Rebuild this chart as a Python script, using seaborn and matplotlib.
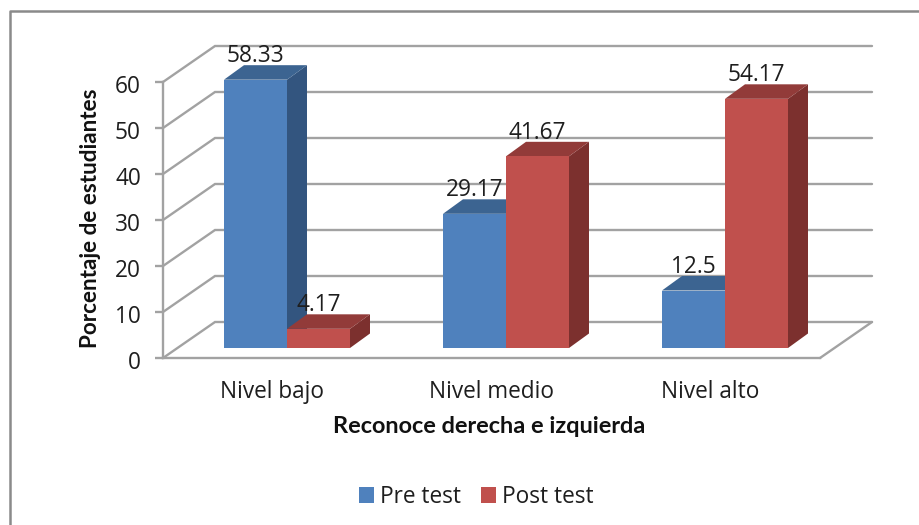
import matplotlib
matplotlib.use("Agg")
import matplotlib.pyplot as plt
import matplotlib.transforms as mtransforms
import pandas as pd
import seaborn as sns
from matplotlib.lines import Line2D
from matplotlib.patches import Polygon

# Survey results: share of students per level, before and after the programme
levels = ["Nivel bajo", "Nivel medio", "Nivel alto"]
pre_test = [58.33, 29.17, 12.5]
post_test = [4.17, 41.67, 54.17]
series_names = ["Pre test", "Post test"]
y_ticks = [0, 10, 20, 30, 40, 50, 60]

FACE = ["#4F81BD", "#C0504D"]
TOP = ["#3C6491", "#923B39"]
SIDE = ["#33557F", "#7C302E"]
GRID = "#A2A2A2"
INK = "#1E1E1E"
FONT = "Open Sans"
BOLD_FONT = "Lato"
TEXT_SIZE = 16.3

W, H = 920, 525
FLOOR_L, FLOOR_R, FLOOR_Y, TOP_Y = 163, 820, 358, 82
WALL_DX, WALL_DY = 52, 36       # depth of the box, pixels
FRONT_DX, FRONT_DY = 14.5, 10   # bars stand this far back from the front edge
BAR_DX, BAR_DY = 20, 14.5       # depth of one bar

sns.set_theme(style="white")
plt.rcParams["font.family"] = [FONT, "DejaVu Sans"]

fig = plt.figure(figsize=(W / 100, H / 100), dpi=100)


def place(dx=0, dy=0):
    return [(FLOOR_L + dx) / W, (H - FLOOR_Y + dy) / H,
            (FLOOR_R - FLOOR_L) / W, (FLOOR_Y - TOP_Y) / H]


# Outer chart frame, open towards the bottom and right edges of the figure
fig.add_artist(Line2D([10 / W, 10 / W, 1.0], [0.0, 1 - 11 / H, 1 - 11 / H],
                      color="#8A8A8A", lw=1.8, transform=fig.transFigure))

# Box axes: value axis, floor and walls
box = fig.add_axes(place())
box.set_xlim(-0.5, 2.5)
box.set_ylim(0, 60)
box.patch.set_alpha(0)
per_cat = (FLOOR_R - FLOOR_L) / 3
per_unit = (FLOOR_Y - TOP_Y) / 60
wall_dx = WALL_DX / per_cat
wall_dy = WALL_DY / per_unit
for tick in y_ticks:
    box.plot([-0.5, -0.5 + wall_dx, 2.5 + wall_dx],
             [tick, tick + wall_dy, tick + wall_dy],
             color=GRID, lw=1.7, clip_on=False, zorder=1, solid_joinstyle="miter")
box.plot([2.5, 2.5 + wall_dx], [0, wall_dy], color=GRID, lw=1.7, clip_on=False, zorder=1)
for name in ("top", "right"):
    box.spines[name].set_visible(False)
for name in ("left", "bottom"):
    box.spines[name].set_color(GRID)
    box.spines[name].set_linewidth(1.7)
box.set_yticks(y_ticks)
box.set_xticks(range(len(levels)), levels)
box.tick_params(axis="y", left=True, length=6, width=1.7, color=GRID, pad=10,
                labelsize=TEXT_SIZE, labelcolor=INK)
box.tick_params(axis="x", bottom=False, pad=10, labelsize=TEXT_SIZE, labelcolor=INK)
# The value labels sit a little below their tick marks
nudge = mtransforms.ScaledTranslation(0, -2 / 100, fig.dpi_scale_trans)
for label in box.get_yticklabels():
    label.set_transform(label.get_transform() + nudge)
box.set_ylabel("Porcentaje de estudiantes", fontsize=16.2, fontweight="bold",
               family=BOLD_FONT, color="#111111")
box.yaxis.set_label_coords((101 - FLOOR_L) / (FLOOR_R - FLOOR_L),
                           (FLOOR_Y - 218) / (FLOOR_Y - TOP_Y))
box.set_xlabel("Reconoce derecha e izquierda", fontsize=16.9, fontweight="bold",
               family=BOLD_FONT, color="#111111")
box.xaxis.set_label_coords((489 - FLOOR_L) / (FLOOR_R - FLOOR_L),
                           (FLOOR_Y - 416) / (FLOOR_Y - TOP_Y))

# Bar axes: same scale as the box, moved back to the bars' front plane
bars = fig.add_axes(place(FRONT_DX, FRONT_DY))
bars.patch.set_alpha(0)
data = pd.DataFrame({
    "nivel": levels * 2,
    "prueba": [series_names[0]] * 3 + [series_names[1]] * 3,
    "valor": pre_test + post_test,
})
sns.barplot(data=data, x="nivel", y="valor", hue="prueba", order=levels,
            hue_order=series_names, palette=FACE, width=126 / per_cat,
            gap=0, saturation=1, legend=False, ax=bars, linewidth=0, zorder=3)
bars.set_xlim(-0.5, 2.5)
bars.set_ylim(0, 60)
bars.axis("off")

# Side and top faces plus the value label of every bar
bar_dx = BAR_DX / per_cat
bar_dy = BAR_DY / per_unit
for s, container in enumerate(bars.containers):
    for rect, value in zip(container, (pre_test, post_test)[s]):
        x0, x1 = rect.get_x(), rect.get_x() + rect.get_width()
        # Bars further right overlap the ones on their left
        z = 3 + 0.4 * rect.get_x() + 0.01 * s
        rect.set_zorder(z + 0.02)
        rect.set_clip_on(False)
        bars.add_patch(Polygon([(x1, 0), (x1 + bar_dx, bar_dy),
                                (x1 + bar_dx, value + bar_dy), (x1, value)],
                               closed=True, fc=SIDE[s], ec="none", clip_on=False, zorder=z))
        bars.add_patch(Polygon([(x0, value), (x0 + bar_dx, value + bar_dy),
                                (x1 + bar_dx, value + bar_dy), (x1, value)],
                               closed=True, fc=TOP[s], ec="none", clip_on=False, zorder=z))
        bars.text((x0 + x1) / 2, value + bar_dy + 0.7, f"{value:g}", ha="center", va="baseline",
                  fontsize=TEXT_SIZE, color=INK, clip_on=False, zorder=20)

handles = [container[0] for container in bars.containers]
fig.legend(handles, series_names, loc="center", ncol=2, frameon=False,
           bbox_to_anchor=(476 / W, 1 - 497 / H), fontsize=TEXT_SIZE, labelcolor=INK,
           handlelength=0.68, handleheight=0.68, handletextpad=0.25, columnspacing=0.88)

fig.savefig("out.png", dpi=100)
